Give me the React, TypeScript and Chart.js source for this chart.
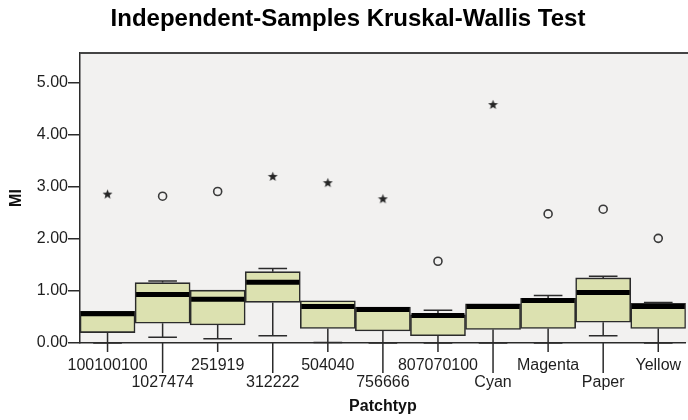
import React, { useEffect, useRef } from 'react';
import { Chart, registerables } from 'chart.js';

Chart.register(...registerables);

const categories = ['100100100', '1027474', '251919', '312222', '504040', '756666', '807070100', 'Cyan', 'Magenta', 'Paper', 'Yellow'];
const whiskerLow = [0.0, 0.11, 0.08, 0.14, 0.01, 0.0, 0.0, 0.0, 0.0, 0.14, 0.0];
const q1 = [0.2, 0.38, 0.345, 0.78, 0.28, 0.23, 0.14, 0.26, 0.28, 0.4, 0.28];
const median = [0.56, 0.93, 0.84, 1.165, 0.7, 0.645, 0.53, 0.7, 0.815, 0.97, 0.7];
const q3 = [0.61, 1.16, 1.015, 1.37, 0.81, 0.69, 0.54, 0.75, 0.86, 1.25, 0.76];
const whiskerHigh = [0.61, 1.19, 1.015, 1.43, 0.81, 0.69, 0.63, 0.75, 0.91, 1.28, 0.78];
const outliers = [2.86, 2.82, 2.91, 3.2, 3.08, 2.77, 1.57, 4.58, 2.48, 2.57, 2.01];
const outlierKinds = ['star', 'circle', 'circle', 'star', 'star', 'star', 'circle', 'star', 'circle', 'circle', 'circle'];
const yTicks = [0, 1, 2, 3, 4, 5];

const FONT = "'Liberation Sans', Arial, sans-serif";
const LINE = '#2b2b2b';

function makeStar(): HTMLCanvasElement {
  const c = document.createElement('canvas');
  c.width = 11;
  c.height = 11;
  const ctx = c.getContext('2d')!;
  ctx.fillStyle = '#262626';
  ctx.beginPath();
  const cx = 5.5, cy = 5.9, R = 5.2, r = 2.2;
  for (let i = 0; i < 10; i++) {
    const a = -Math.PI / 2 + (i * Math.PI) / 5;
    const rad = i % 2 === 0 ? R : r;
    const x = cx + rad * Math.cos(a);
    const y = cy + rad * Math.sin(a);
    if (i === 0) ctx.moveTo(x, y); else ctx.lineTo(x, y);
  }
  ctx.closePath();
  ctx.fill();
  return c;
}

const boxPlugin = {
  id: 'boxExtras',
  beforeDraw(chart: any) {
    const { ctx, chartArea } = chart;
    ctx.save();
    ctx.fillStyle = '#f2f1f0';
    ctx.fillRect(chartArea.left, chartArea.top, chartArea.right - chartArea.left + 20, chartArea.bottom - chartArea.top);
    ctx.restore();
  },
  afterDatasetsDraw(chart: any) {
    const { ctx } = chart;
    const xs = chart.scales.x;
    const ys = chart.scales.y;
    const meta = chart.getDatasetMeta(0);
    ctx.save();
    ctx.strokeStyle = LINE;
    ctx.lineWidth = 1.5;
    categories.forEach((_, i) => {
      const x = xs.getPixelForValue(i);
      const bar = meta.data[i];
      const half = bar.width * 0.26;
      const yq1 = ys.getPixelForValue(q1[i]);
      const yq3 = ys.getPixelForValue(q3[i]);
      const yLo = ys.getPixelForValue(whiskerLow[i]);
      const yHi = ys.getPixelForValue(whiskerHigh[i]);
      ctx.beginPath();
      if (whiskerHigh[i] > q3[i]) {
        ctx.moveTo(x, yq3); ctx.lineTo(x, yHi);
        ctx.moveTo(x - half, yHi); ctx.lineTo(x + half, yHi);
      }
      if (whiskerLow[i] < q1[i]) {
        ctx.moveTo(x, yq1); ctx.lineTo(x, yLo);
        ctx.moveTo(x - half, yLo); ctx.lineTo(x + half, yLo);
      }
      ctx.stroke();
    });
    ctx.strokeStyle = '#000000';
    ctx.lineWidth = 5;
    categories.forEach((_, i) => {
      const bar = meta.data[i];
      const ym = ys.getPixelForValue(median[i]);
      ctx.beginPath();
      ctx.moveTo(bar.x - bar.width / 2 + 1, ym);
      ctx.lineTo(bar.x + bar.width / 2 - 1, ym);
      ctx.stroke();
    });
    ctx.restore();
  },
  afterDraw(chart: any) {
    const { ctx, chartArea } = chart;
    const xs = chart.scales.x;
    ctx.save();
    ctx.strokeStyle = '#444444';
    ctx.lineWidth = 2;
    ctx.beginPath();
    ctx.moveTo(chartArea.left, chartArea.top);
    ctx.lineTo(chartArea.right + 20, chartArea.top);
    ctx.stroke();
    ctx.strokeStyle = LINE;
    ctx.lineWidth = 1.5;
    ctx.beginPath();
    categories.forEach((_, i) => {
      const x = xs.getPixelForValue(i);
      ctx.moveTo(x, chartArea.bottom);
      ctx.lineTo(x, chartArea.bottom + (i % 2 === 0 ? 9 : 30));
    });
    ctx.stroke();
    ctx.restore();
  },
};

export default function App() {
  const ref = useRef<HTMLCanvasElement | null>(null);
  useEffect(() => {
    document.body.style.margin = '0';
    const star = makeStar();
    const styles = outlierKinds.map((k) => (k === 'star' ? star : 'circle'));
    const chart = new Chart(ref.current!, {
      type: 'bar',
      data: {
        labels: categories,
        datasets: [
          {
            type: 'bar',
            data: categories.map((_, i) => [q1[i], q3[i]]),
            backgroundColor: '#dce1b0',
            borderColor: LINE,
            borderWidth: 1.6,
            borderSkipped: false,
            barPercentage: 1,
            categoryPercentage: 1,
            yAxisID: 'y',
          } as any,
          {
            type: 'line',
            data: outliers,
            showLine: false,
            pointStyle: styles as any,
            pointRadius: 4,
            pointBorderWidth: 1.6,
            pointBorderColor: '#3a3a3a',
            pointBackgroundColor: 'rgba(0,0,0,0)',
            yAxisID: 'y',
          } as any,
        ],
      },
      options: {
        responsive: false,
        animation: false,
        devicePixelRatio: 1,
        layout: { padding: 0 },
        plugins: {
          legend: { display: false },
          tooltip: { enabled: false },
          title: {
            display: true,
            text: 'Independent-Samples Kruskal-Wallis Test',
            color: '#000000',
            font: { family: FONT, size: 24, weight: 'bold' },
            padding: { top: 5, bottom: 19.2 },
          },
        },
        scales: {
          x: {
            type: 'category',
            offset: true,
            grid: { display: false, drawTicks: false },
            border: { display: true, color: LINE, width: 1.5 },
            ticks: {
              autoSkip: false,
              maxRotation: 0,
              minRotation: 0,
              padding: 14.5,
              color: '#1e1e1e',
              font: { family: FONT, size: 16, lineHeight: '17px' },
              callback: (_v: any, i: number) => (i % 2 === 0 ? categories[i] : ['', categories[i]]),
            },
            title: {
              display: true,
              text: 'Patchtyp',
              color: '#111111',
              font: { family: FONT, size: 16, weight: 'bold' },
              padding: { top: 0, bottom: 3.4 },
            },
            afterFit: (s: any) => { s.height = 77; },
          },
          y: {
            type: 'linear',
            position: 'left',
            min: 0,
            max: 5.57,
            grid: { drawOnChartArea: false, drawTicks: true, tickLength: 12, color: LINE, lineWidth: 1.5 },
            border: { display: true, color: LINE, width: 1.5 },
            ticks: {
              stepSize: 1,
              padding: 0,
              color: '#1e1e1e',
              font: { family: FONT, size: 16 },
              callback: (v: any) => Number(v).toFixed(2),
            },
            afterBuildTicks: (s: any) => {
              s.ticks = yTicks.map((v) => ({ value: v }));
            },
            title: {
              display: true,
              text: 'MI',
              color: '#111111',
              font: { family: FONT, size: 16, weight: 'bold' },
              padding: { top: 7.4, bottom: 0 },
            },
            afterFit: (s: any) => { s.width = 80; },
          },
          yr: {
            type: 'linear',
            position: 'right',
            display: true,
            grid: { display: false, drawTicks: false },
            border: { display: false },
            ticks: { display: false },
            afterFit: (s: any) => { s.width = 9; },
          },
        },
      } as any,
      plugins: [boxPlugin],
    });
    return () => chart.destroy();
  }, []);
  return (
    <div style={{ width: 688, height: 420, overflow: 'hidden', position: 'relative' }}>
      <canvas ref={ref} width={696} height={420} style={{ display: 'block', width: 696, height: 420 }} />
    </div>
  );
}
